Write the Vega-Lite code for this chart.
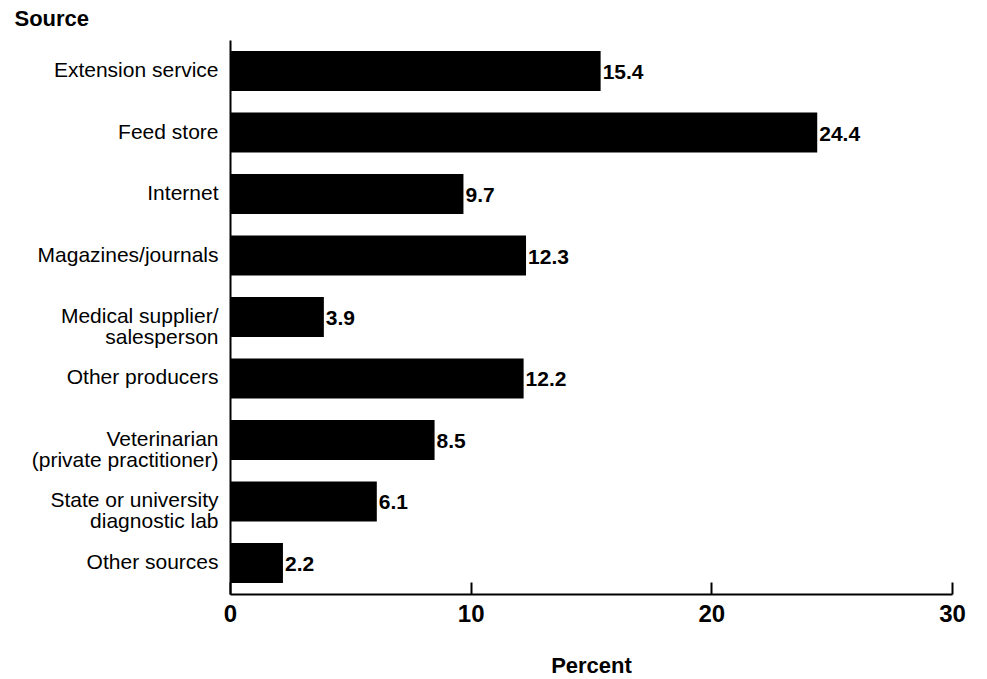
{
  "$schema": "https://vega.github.io/schema/vega-lite/v6.json",
  "width": 722,
  "height": 554,
  "autosize": "none",
  "padding": {"left": 230, "top": 40, "right": 35, "bottom": 85},
  "background": "white",
  "config": {"view": {"stroke": null}, "font": "Liberation Sans"},
  "data": {"values": [
    {"source": "Extension service", "percent": 15.4},
    {"source": "Feed store", "percent": 24.4},
    {"source": "Internet", "percent": 9.7},
    {"source": "Magazines/journals", "percent": 12.3},
    {"source": "Medical supplier/|salesperson", "percent": 3.9},
    {"source": "Other producers", "percent": 12.2},
    {"source": "Veterinarian|(private practitioner)", "percent": 8.5},
    {"source": "State or university|diagnostic lab", "percent": 6.1},
    {"source": "Other sources", "percent": 2.2}
  ]},
  "encoding": {
    "y": {
      "field": "source", "type": "nominal", "sort": null,
      "scale": {"paddingInner": 0.35, "paddingOuter": 0.18},
      "axis": {
        "title": "Source", "titleAngle": 0, "titleX": -216, "titleY": -22, "titleAlign": "left", "titleBaseline": "middle",
        "titleFontSize": 22, "titleFontWeight": "bold", "titleColor": "black",
        "labelExpr": "split(datum.value, '|')", "labelFontSize": 21, "labelColor": "black", "labelLineHeight": 21,
        "labelPadding": 12, "ticks": false, "domainColor": "black", "domainWidth": 2, "labelLimit": 300
      }
    },
    "x": {
      "field": "percent", "type": "quantitative",
      "scale": {"domain": [0, 30], "nice": false},
      "axis": {
        "title": "Percent", "titleFontSize": 22, "titleFontWeight": "bold", "titleColor": "black", "titlePadding": 29,
        "values": [0, 10, 20, 30], "grid": false, "tickSize": -12, "tickColor": "black", "tickWidth": 2,
        "domainColor": "black", "domainWidth": 2, "labelFontSize": 24, "labelFontWeight": "bold", "labelColor": "black",
        "labelPadding": 20, "labelFlush": false
      }
    }
  },
  "layer": [
    {"mark": {"type": "bar", "color": "black"}},
    {"mark": {"type": "text", "align": "left", "baseline": "middle", "dx": 2, "dy": 2, "fontSize": 21, "fontWeight": "bold", "color": "black"},
     "encoding": {"text": {"field": "percent", "type": "quantitative", "format": ".1f"}}}
  ]
}
